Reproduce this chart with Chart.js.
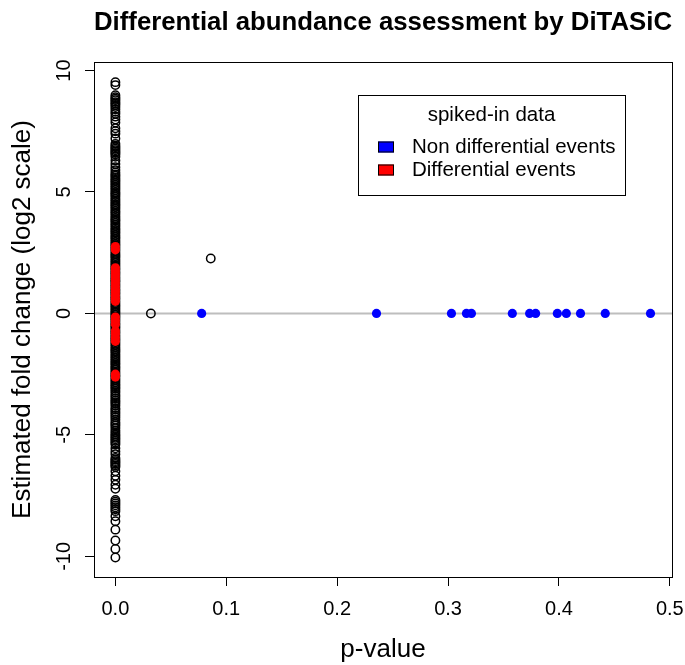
<!DOCTYPE html>
<html lang="en">
<head>
<meta charset="UTF-8">
<title>Differential abundance assessment by DiTASiC</title>
<script src="https://cdn.jsdelivr.net/npm/chart.js@4.4.0/dist/chart.umd.min.js"></script>
<style>
  html, body { margin: 0; padding: 0; background: #fff; }
  #wrap { width: 685px; height: 665px; }
</style>
</head>
<body>
<div id="wrap"><canvas id="myChart" width="685" height="665"></canvas></div>
<script>
// fold changes of all other events, p-value ~ 0
const otherFC = [9.52, 9.4, 8.98, 8.9, 8.84, 8.78, 8.7, 8.64, 8.58, 8.5, 8.4, 8.3, 8.22, 8.1, 7.98,
  7.86, 7.62, 7.5, 7.4, 7.2, 6.98, 6.9, 6.84, 6.78, 6.72, 6.66, 6.6, 6.54, 6.45, 6.3, 6.15, 6.02, 5.9,
  5.8, 5.72, 5.66, 5.58, 5.5, 5.44, 5.37, 5.3, 5.22, 5.15, 5.08, 5.0, 4.94, 4.87, 4.8, 4.72, 4.65,
  4.58, 4.5, 4.44, 4.37, 4.3, 4.22, 4.15, 4.08, 4.0, 3.93, 3.86, 3.8, 3.72, 3.65, 3.58, 3.5, 3.43,
  3.36, 3.3, 3.22, 3.15, 3.08, 3.0, 2.93, 2.86, 2.8, 2.72, 2.65, 2.58, 2.5, 2.43, 2.36, 2.3, 2.22,
  2.15, 2.08, 2.0, 1.93, 1.86, 1.8, 1.72, 1.65, 1.58, 1.5, 1.43, 1.36, 1.3, 1.22, 1.15, 1.08, 1.0,
  0.93, 0.86, 0.8, 0.72, 0.65, 0.58, 0.5, 0.43, 0.36, 0.3, 0.22, 0.15, 0.08, 0.02, -0.05, -0.12,
  -0.18, -0.25, -0.32, -0.4, -0.47, -0.54, -0.6, -0.68, -0.75, -0.82, -0.9, -0.97, -1.04, -1.1,
  -1.18, -1.25, -1.32, -1.4, -1.47, -1.54, -1.6, -1.68, -1.75, -1.82, -1.9, -1.97, -2.04, -2.1,
  -2.18, -2.25, -2.32, -2.4, -2.47, -2.54, -2.6, -2.68, -2.75, -2.82, -2.9, -2.97, -3.04, -3.1,
  -3.18, -3.25, -3.35, -3.42, -3.5, -3.58, -3.65, -3.72, -3.8, -3.9, -3.97, -4.05, -4.12, -4.2,
  -4.28, -4.38, -4.48, -4.55, -4.62, -4.72, -4.82, -4.9, -4.98, -5.05, -5.12, -5.18, -5.25, -5.32,
  -5.4, -5.55, -5.68, -5.8, -5.95, -6.02, -6.08, -6.14, -6.2, -6.26, -6.32, -6.5, -6.68, -6.85,
  -7.05, -7.22, -7.68, -7.75, -7.82, -7.9, -7.98, -8.06, -8.14, -8.35, -8.55, -8.9, -9.35, -9.7,
  -10.05];
// the two other events with a larger p-value
const otherExtraP = [0.032, 0.086];
const otherExtraFC = [0, 2.26];
// spiked-in differential events, p-value ~ 0
const diffFC = [2.75, 2.62, 1.88, 1.75, 1.62, 1.5, 1.38, 1.25, 1.12, 1.0, 0.88, 0.75, 0.62, 0.5,
  -0.15, -0.3, -0.45, -0.72, -0.85, -1.0, -1.15, -2.5, -2.62];
// spiked-in non differential events, fold change 0
const nonDiffP = [0.0778, 0.2355, 0.3031, 0.3166, 0.3211, 0.358, 0.3736, 0.379, 0.3986, 0.4067,
  0.4195, 0.4418, 0.4826];

const xTicks = [0, 0.1, 0.2, 0.3, 0.4, 0.5];
const yTicks = [-10, -5, 0, 5, 10];

const FONT = '"Liberation Sans", Arial, Helvetica, sans-serif';

const otherPoints = otherFC.map(v => ({x: 0, y: v}))
  .concat(otherExtraP.map((p, i) => ({x: p, y: otherExtraFC[i]})));

// grey reference line at fold change 0
const zeroLine = {
  id: 'zeroLine',
  beforeDatasetsDraw(chart) {
    const {ctx, chartArea: a, scales: {y}} = chart;
    const py = y.getPixelForValue(0);
    ctx.save();
    ctx.strokeStyle = '#bebebe';
    ctx.lineWidth = 2;
    ctx.beginPath();
    ctx.moveTo(a.left, py);
    ctx.lineTo(a.right, py);
    ctx.stroke();
    ctx.restore();
  }
};

// box, rotated y labels and the legend
const frame = {
  id: 'frame',
  afterDraw(chart) {
    const {ctx, chartArea: a, scales: {y}} = chart;
    ctx.save();
    ctx.strokeStyle = '#000';
    ctx.lineWidth = 1;
    ctx.strokeRect(Math.round(a.left) + 0.5, Math.round(a.top) + 0.5,
      Math.round(a.right - a.left), Math.round(a.bottom - a.top));

    ctx.fillStyle = '#000';
    ctx.font = '20px ' + FONT;
    ctx.textAlign = 'center';
    ctx.textBaseline = 'middle';
    y.ticks.forEach(t => {
      ctx.save();
      ctx.translate(a.left - 30, y.getPixelForValue(t.value));
      ctx.rotate(-Math.PI / 2);
      ctx.fillText(String(t.value), 0, 0);
      ctx.restore();
    });

    // legend
    const lx = 358, ly = 95, lw = 267, lh = 100;
    ctx.fillStyle = '#fff';
    ctx.fillRect(lx, ly, lw, lh);
    ctx.strokeRect(lx + 0.5, ly + 0.5, lw, lh);
    ctx.fillStyle = '#000';
    ctx.font = '20.5px ' + FONT;
    ctx.textAlign = 'center';
    ctx.fillText('spiked-in data', lx + lw / 2, ly + 20);
    const items = [['Non differential events', '#0000ff'], ['Differential events', '#ff0000']];
    items.forEach(([label, col], i) => {
      const cy = ly + 52 + i * 23;
      ctx.fillStyle = col;
      ctx.fillRect(378, cy - 5.5, 16, 11);
      ctx.strokeStyle = '#000';
      ctx.strokeRect(378.5, cy - 5, 15, 10);
      ctx.fillStyle = '#000';
      ctx.textAlign = 'left';
      ctx.fillText(label, 412, cy);
    });
    ctx.restore();
  }
};

const tickGrid = {
  display: true,
  drawOnChartArea: false,
  drawTicks: true,
  tickLength: 9,
  tickColor: '#000',
  tickWidth: 1
};

const ctx = document.getElementById('myChart').getContext('2d');
new Chart(ctx, {
  type: 'scatter',
  data: {
    datasets: [
      {
        label: 'Non differential events',
        data: nonDiffP.map(p => ({x: p, y: 0})),
        backgroundColor: '#0000ff',
        borderWidth: 0,
        pointRadius: 4.6,
        order: 1
      },
      {
        label: 'Differential events',
        data: diffFC.map(v => ({x: 0, y: v})),
        backgroundColor: '#ff0000',
        borderWidth: 0,
        pointRadius: 4.6,
        order: 2
      },
      {
        label: 'Other events',
        data: otherPoints,
        backgroundColor: 'rgba(0,0,0,0)',
        borderColor: '#000',
        borderWidth: 1.5,
        pointRadius: 4.2,
        order: 3
      }
    ]
  },
  options: {
    responsive: false,
    animation: false,
    devicePixelRatio: 1,
    events: [],
    layout: { padding: { left: 0, right: 13, top: 0, bottom: 0 } },
    plugins: {
      legend: { display: false },
      tooltip: { enabled: false },
      title: {
        display: true,
        fullSize: false,
        text: 'Differential abundance assessment by DiTASiC',
        color: '#000',
        font: { family: FONT, size: 26, weight: 'bold' },
        padding: { top: 7, bottom: 23.8 }
      }
    },
    scales: {
      x: {
        type: 'linear',
        min: -0.0193,
        max: 0.502,
        afterBuildTicks: s => { s.ticks = xTicks.map(v => ({value: v})); },
        afterFit: s => { s.height = 88; s.paddingLeft = 0; s.paddingRight = 0; },
        grid: tickGrid,
        border: { display: false },
        ticks: {
          color: '#000',
          padding: 11,
          maxRotation: 0,
          autoSkip: false,
          font: { family: FONT, size: 20 },
          callback: v => v.toFixed(1)
        },
        title: {
          display: true,
          text: 'p-value',
          color: '#000',
          font: { family: FONT, size: 26 },
          padding: { top: 0, bottom: 0 }
        }
      },
      y: {
        type: 'linear',
        min: -10.85,
        max: 10.35,
        afterBuildTicks: s => { s.ticks = yTicks.map(v => ({value: v})); },
        afterFit: s => { s.width = 94; },
        grid: tickGrid,
        border: { display: false },
        ticks: { display: false },
        title: {
          display: true,
          text: 'Estimated fold change (log2 scale)',
          color: '#000',
          font: { family: FONT, size: 26 },
          padding: { top: 7, bottom: 0 }
        }
      }
    }
  },
  plugins: [zeroLine, frame]
});
</script>
</body>
</html>
